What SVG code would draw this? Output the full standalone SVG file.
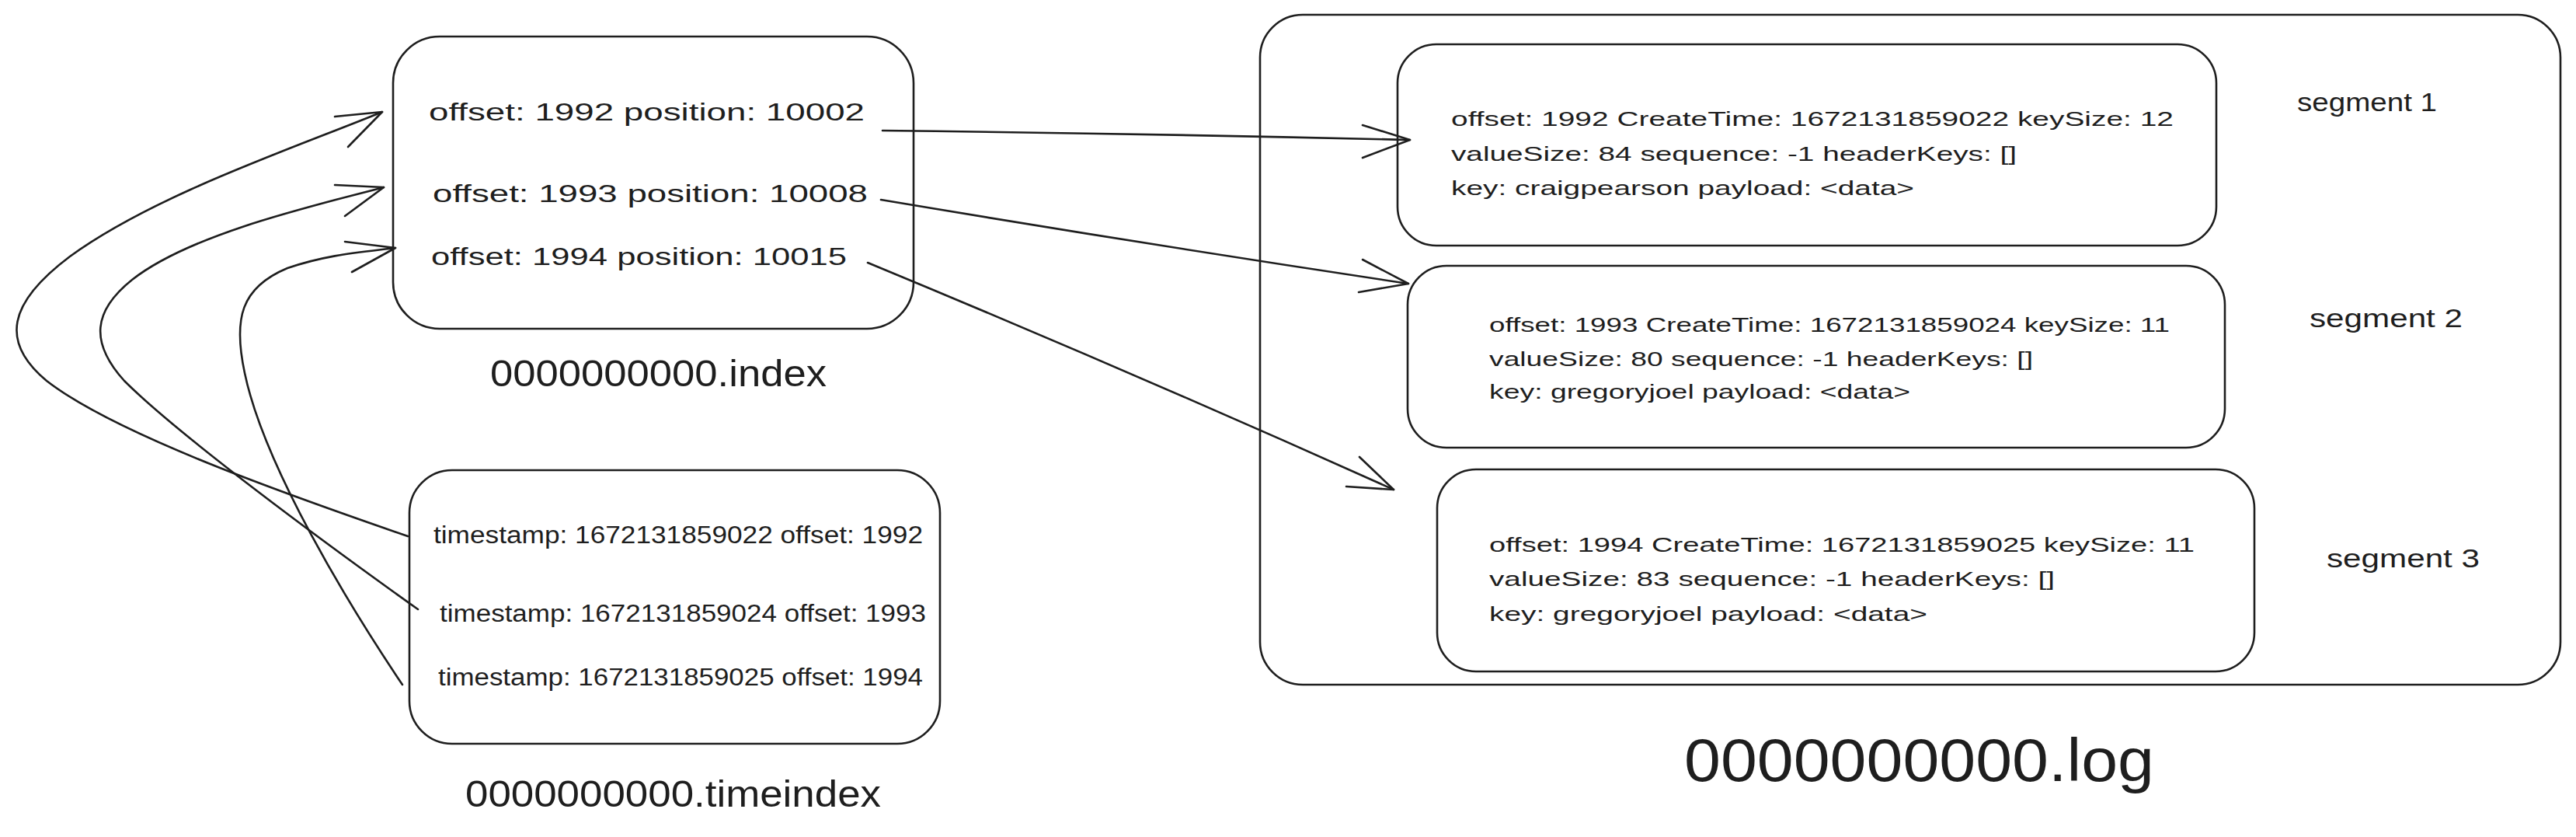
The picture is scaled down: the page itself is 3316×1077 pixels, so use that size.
<svg xmlns="http://www.w3.org/2000/svg" width="3316" height="1077" viewBox="0 0 3316 1077">
<style>
.box{fill:none;stroke:#1e1e1e;stroke-width:2.6}
.conn{fill:none;stroke:#1e1e1e;stroke-width:2.6;stroke-linecap:round;stroke-linejoin:round}
.t{font-family:"Liberation Sans",Arial,sans-serif;fill:#1e1e1e}
.body{font-size:31px}
.seg{font-size:25px}
.lbl{font-size:48px}
.big{font-size:78px}
.segl{font-size:34px}
</style>
<rect width="3316" height="1077" fill="#ffffff"/>
<g id="log-file">
<rect class="box" x="1622" y="19" width="1674" height="862" rx="55"/>
<text class="t big" x="2168" y="1005" textLength="605" lengthAdjust="spacingAndGlyphs">0000000000.log</text>
</g>
<g id="index-file">
<rect class="box" x="506" y="47" width="670" height="376" rx="60"/>
<text class="t body" x="552" y="155" textLength="561" lengthAdjust="spacingAndGlyphs">offset: 1992 position: 10002</text>
<text class="t body" x="557" y="260" textLength="560" lengthAdjust="spacingAndGlyphs">offset: 1993 position: 10008</text>
<text class="t body" x="555" y="341" textLength="535" lengthAdjust="spacingAndGlyphs">offset: 1994 position: 10015</text>
<text class="t lbl" x="631" y="497" textLength="433" lengthAdjust="spacingAndGlyphs">0000000000.index</text>
</g>
<g id="timeindex-file">
<rect class="box" x="527" y="605" width="683" height="352" rx="55"/>
<text class="t body" x="558" y="699" textLength="630" lengthAdjust="spacingAndGlyphs">timestamp: 1672131859022 offset: 1992</text>
<text class="t body" x="566" y="800" textLength="626" lengthAdjust="spacingAndGlyphs">timestamp: 1672131859024 offset: 1993</text>
<text class="t body" x="564" y="882" textLength="624" lengthAdjust="spacingAndGlyphs">timestamp: 1672131859025 offset: 1994</text>
<text class="t lbl" x="599" y="1038" textLength="535" lengthAdjust="spacingAndGlyphs">0000000000.timeindex</text>
</g>
<g id="segment-1">
<rect class="box" x="1799" y="57" width="1054" height="259" rx="50"/>
<text class="t seg" x="1868" y="162" textLength="930" lengthAdjust="spacingAndGlyphs">offset: 1992 CreateTime: 1672131859022 keySize: 12</text>
<text class="t seg" x="1868" y="207" textLength="728" lengthAdjust="spacingAndGlyphs">valueSize: 84 sequence: -1 headerKeys: []</text>
<text class="t seg" x="1868" y="251" textLength="596" lengthAdjust="spacingAndGlyphs">key: craigpearson payload: &lt;data&gt;</text>
<text class="t segl" x="2957" y="143" textLength="180" lengthAdjust="spacingAndGlyphs">segment 1</text>
</g>
<g id="segment-2">
<rect class="box" x="1812" y="342" width="1052" height="234" rx="50"/>
<text class="t seg" x="1917" y="427" textLength="876" lengthAdjust="spacingAndGlyphs">offset: 1993 CreateTime: 1672131859024 keySize: 11</text>
<text class="t seg" x="1917" y="471" textLength="700" lengthAdjust="spacingAndGlyphs">valueSize: 80 sequence: -1 headerKeys: []</text>
<text class="t seg" x="1917" y="513" textLength="542" lengthAdjust="spacingAndGlyphs">key: gregoryjoel payload: &lt;data&gt;</text>
<text class="t segl" x="2973" y="421" textLength="197" lengthAdjust="spacingAndGlyphs">segment 2</text>
</g>
<g id="segment-3">
<rect class="box" x="1850" y="604" width="1052" height="260" rx="50"/>
<text class="t seg" x="1917" y="710" textLength="908" lengthAdjust="spacingAndGlyphs">offset: 1994 CreateTime: 1672131859025 keySize: 11</text>
<text class="t seg" x="1917" y="754" textLength="728" lengthAdjust="spacingAndGlyphs">valueSize: 83 sequence: -1 headerKeys: []</text>
<text class="t seg" x="1917" y="799" textLength="564" lengthAdjust="spacingAndGlyphs">key: gregoryjoel payload: &lt;data&gt;</text>
<text class="t segl" x="2995" y="730" textLength="197" lengthAdjust="spacingAndGlyphs">segment 3</text>
</g>
<g id="connectors">
<path class="conn" d="M1136,168 Q1480,172 1815,180"/>
<path class="conn" d="M1754,161 L1815,180 L1754,203"/>
<path class="conn" d="M1134,257 Q1480,315 1813,365"/>
<path class="conn" d="M1754,334 L1813,365 L1749,376"/>
<path class="conn" d="M1117,338 Q1460,480 1794,630"/>
<path class="conn" d="M1750,588 L1794,630 L1733,626"/>
<path class="conn" d="M525,690 C380,640 150,560 60,490 C0,440 10,390 90,330 C200,250 380,190 492,144"/>
<path class="conn" d="M431,150 L492,144 L448,189"/>
<path class="conn" d="M538,784 C420,700 230,560 160,490 C115,440 120,400 170,360 C240,305 380,270 494,241"/>
<path class="conn" d="M431,238 L494,241 L444,278"/>
<path class="conn" d="M518,881 C450,780 340,600 315,480 C300,410 310,370 370,345 C420,328 460,325 509,319"/>
<path class="conn" d="M444,311 L509,319 L453,350"/>
</g>
</svg>
